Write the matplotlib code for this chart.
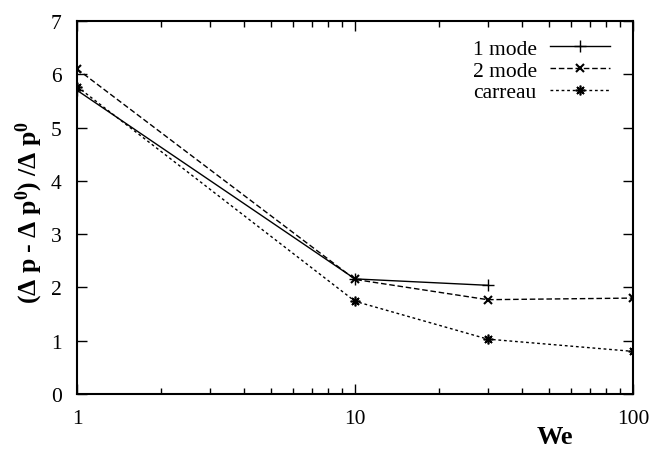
import matplotlib
matplotlib.use('Agg')
import matplotlib.pyplot as plt

plt.rcParams['font.family'] = ['Liberation Serif', 'DejaVu Serif']
plt.rcParams['mathtext.fontset'] = 'custom'
plt.rcParams['mathtext.rm'] = 'Liberation Serif'
plt.rcParams['mathtext.bf'] = 'Liberation Serif:bold'
plt.rcParams['mathtext.default'] = 'bf'

# data
we_1mode = [1, 10, 30]
dp_1mode = [5.70, 2.16, 2.04]
we_2mode = [1, 10, 30, 100]
dp_2mode = [6.10, 2.15, 1.77, 1.80]
we_carreau = [1, 10, 30, 100]
dp_carreau = [5.77, 1.74, 1.03, 0.80]

fig = plt.figure(figsize=(6.52, 4.6), dpi=100)
ax = fig.add_axes([0.1181, 0.1413, 0.8528, 0.8109])

ax.plot(we_1mode, dp_1mode, color='k', lw=1.0, ls='-', marker='+', ms=9, mew=1.0, label='1 mode')
ax.plot(we_2mode, dp_2mode, color='k', lw=1.0, ls=(0, (4, 2)), marker='x', ms=6, mew=1.5, label='2 mode')
ax.plot(we_carreau, dp_carreau, color='k', lw=1.0, ls=(0, (2, 2)), marker=(8, 2, 0), ms=7, mew=1.2, label='carreau')

ax.set_xscale('log')
ax.set_xlim(1, 100)
ax.set_ylim(0, 7)
ax.set_xticks([1, 10, 100])
ax.set_xticklabels(['1', '10', '100'])
ax.set_yticks(range(8))
ax.tick_params(which='both', direction='in', top=True, right=True, labelsize=15.5, pad=11)
ax.tick_params(which='major', length=7, width=1)
ax.tick_params(which='minor', length=4, width=1)
for s in ax.spines.values():
    s.set_linewidth(1.5)

ax.set_ylabel('(Δ p - Δ p$^{0}$) /Δ p$^{0}$', fontsize=18.5, fontweight='bold')
ax.yaxis.set_label_coords(-0.0576, 0.49)
fig.text(0.851, 0.048, 'We', fontsize=19, fontweight='bold', ha='center', va='center')

ax.legend(loc='upper right', frameon=False, markerfirst=False, fontsize=15.5,
          handlelength=2.8, handletextpad=0.6, labelspacing=0.07,
          borderpad=0.0, borderaxespad=0.0, bbox_to_anchor=(0.9586, 0.952))

fig.savefig('out.png', dpi=100)
